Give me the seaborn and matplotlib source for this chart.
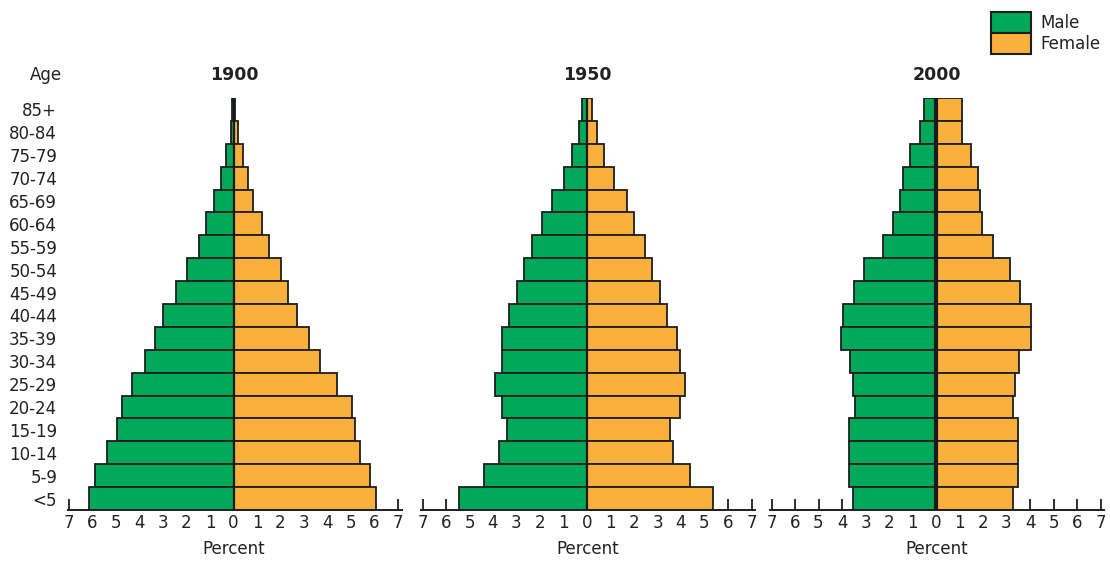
import matplotlib
matplotlib.use("Agg")
import matplotlib.pyplot as plt
import matplotlib.patches as mpatches
import seaborn as sns
import pandas as pd
import numpy as np

ages = ['85+', '80-84', '75-79', '70-74', '65-69', '60-64', '55-59', '50-54', '45-49',
        '40-44', '35-39', '30-34', '25-29', '20-24', '15-19', '10-14', '5-9', '<5']
years = ['1900', '1950', '2000']

male_1900 = [0.07, 0.12, 0.3, 0.55, 0.85, 1.15, 1.45, 2.0, 2.45, 3.0, 3.35, 3.75, 4.3, 4.75, 4.95, 5.4, 5.9, 6.15]
female_1900 = [0.07, 0.2, 0.4, 0.6, 0.85, 1.2, 1.5, 2.0, 2.3, 2.7, 3.2, 3.7, 4.4, 5.05, 5.15, 5.4, 5.8, 6.05]
male_1950 = [0.2, 0.33, 0.64, 0.97, 1.5, 1.9, 2.35, 2.67, 2.98, 3.3, 3.62, 3.62, 3.93, 3.62, 3.4, 3.73, 4.4, 5.46]
female_1950 = [0.2, 0.43, 0.74, 1.13, 1.7, 2.0, 2.45, 2.77, 3.09, 3.4, 3.83, 3.94, 4.18, 3.94, 3.52, 3.64, 4.4, 5.36]
male_2000 = [0.5, 0.68, 1.1, 1.41, 1.53, 1.83, 2.26, 3.08, 3.5, 3.95, 4.05, 3.67, 3.55, 3.43, 3.7, 3.7, 3.7, 3.53]
female_2000 = [1.1, 1.09, 1.51, 1.77, 1.86, 1.96, 2.43, 3.14, 3.56, 4.03, 4.03, 3.53, 3.35, 3.28, 3.5, 3.5, 3.5, 3.28]

sexes = ['Male', 'Female']
tick_values = list(range(-7, 8))
tick_labels = [str(abs(v)) for v in tick_values]

GREEN = '#00a859'
ORANGE = '#fbb03b'
palette = {'Male': GREEN, 'Female': ORANGE}

series = {
    '1900': (male_1900, female_1900),
    '1950': (male_1950, female_1950),
    '2000': (male_2000, female_2000),
}

rows = []
for yr in years:
    m, f = series[yr]
    for a, mv, fv in zip(ages, m, f):
        rows.append({'year': yr, 'age': a, 'sex': 'Male', 'value': -mv})
        rows.append({'year': yr, 'age': a, 'sex': 'Female', 'value': fv})
df = pd.DataFrame(rows)

sns.set_theme(style='white')
plt.rcParams['font.family'] = ['DejaVu Sans']

W, H = 1110, 561
fig = plt.figure(figsize=(W / 100, H / 100), dpi=100)

centers = [233.5, 587, 936]
unit = 23.5
xmin, xmax = -7.15, 7.2
ax_w = (xmax - xmin) * unit
top_px, bot_px = 98, 510

for i, yr in enumerate(years):
    left_px = centers[i] + xmin * unit
    ax = fig.add_axes([left_px / W, 1 - bot_px / H, ax_w / W, (bot_px - top_px) / H])
    sub = df[df['year'] == yr]
    sns.barplot(data=sub, x='value', y='age', hue='sex', order=ages, hue_order=sexes,
                palette=palette, dodge=False, width=1.0, orient='h',
                edgecolor='#1e1e1e', linewidth=1.3, legend=False, ax=ax, saturation=1)
    ax.set_axisbelow(True)
    ax.axvline(0, color='#1a1a1a', lw=3.0 if yr == '2000' else 1.6, zorder=5)
    ax.set_xlim(xmin, xmax)
    ax.set_ylim(len(ages) - 0.5, -0.5)
    for s in ['top', 'right', 'left']:
        ax.spines[s].set_visible(False)
    ax.spines['bottom'].set_color('#1e1e1e')
    ax.spines['bottom'].set_linewidth(1.4)
    ax.spines['bottom'].set_bounds(-7.05, 7.15)
    ax.set_xticks(tick_values)
    ax.set_xticklabels(tick_labels)
    ax.tick_params(axis='x', bottom=True, direction='in', length=8, width=1.3, color='#1e1e1e',
                   pad=3, labelsize=12, labelcolor='#222222')
    ax.tick_params(axis='y', left=False, length=0, pad=6, labelsize=12, labelcolor='#222222')
    if i > 0:
        ax.set_yticklabels([])
    ax.set_ylabel('')
    ax.set_xlabel('Percent', fontsize=12, color='#222222', labelpad=6)
    ax.set_title(yr, fontsize=12.5, fontweight='bold', color='#222222', pad=13)

fig.text(62 / W, 1 - 75 / H, 'Age', ha='right', va='center', fontsize=12, color='#222222')

handles = [mpatches.Patch(facecolor=palette[s], edgecolor='#1e1e1e', linewidth=1.5) for s in sexes]
fig.legend(handles, sexes, loc='upper left', bbox_to_anchor=(991 / W, 1 - 12 / H),
           frameon=False, fontsize=12, handlelength=2.4, handleheight=1.55,
           labelspacing=0.0, handletextpad=0.55, borderpad=0, borderaxespad=0,
           labelcolor='#222222')

fig.savefig('out.png', dpi=100)
